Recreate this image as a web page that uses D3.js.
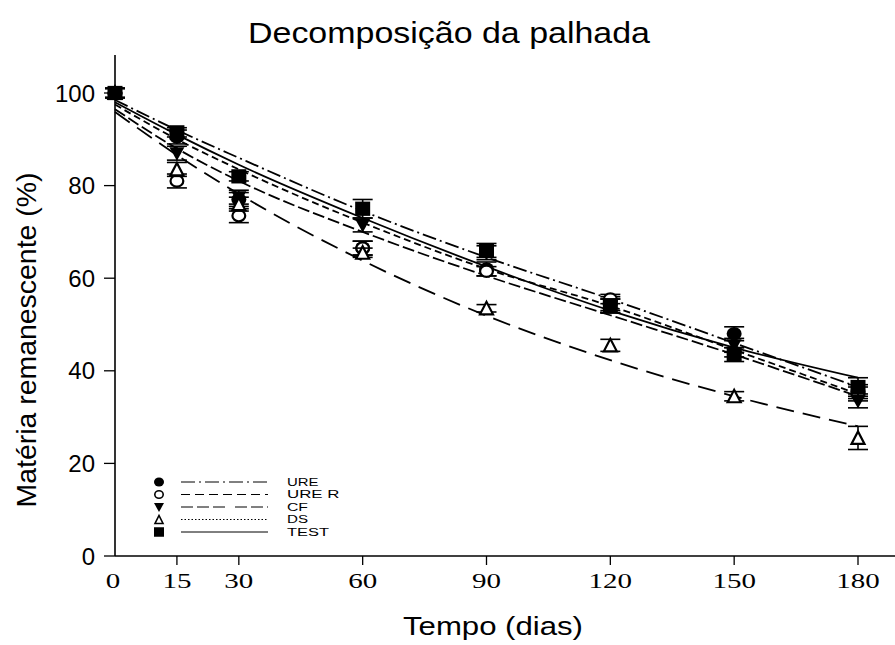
<!DOCTYPE html>
<html>
<head>
<meta charset="utf-8">
<script src="https://cdn.jsdelivr.net/npm/d3@7/dist/d3.min.js"></script>
<style>
  html, body { margin: 0; padding: 0; background: #fff; }
  svg { display: block; }
</style>
</head>
<body>
<div id="chart"></div>
<script>
// ---------- data ----------
const days = [0, 15, 30, 60, 90, 120, 150, 180];
const xTicks = [0, 15, 30, 60, 90, 120, 150, 180];
const yTicks = [0, 20, 40, 60, 80, 100];
const seriesNames = ["URE", "URE R", "CF", "DS", "TEST"];

// observed means (%)
const ureVals   = [100, 90.5, 77.0, 66.5, 62.0, 54.5, 48.0, 35.5];
const ureRVals  = [100, 81.0, 73.5, 66.5, 61.5, 55.5, 44.0, 35.0];
const cfVals    = [100, 87.0, 77.5, 71.5, 65.5, 54.0, 45.5, 33.5];
const dsVals    = [100, 83.5, 76.0, 65.5, 53.5, 45.5, 34.5, 25.5];
const testVals  = [100, 91.5, 82.0, 75.0, 66.0, 54.0, 43.5, 36.5];

// error bars (±)
const ureErr   = [1, 1.5, 1.5, 1.5, 1.5, 1.5, 1.5, 1.5];
const ureRErr  = [1, 1.5, 1.5, 1.5, 1.0, 1.0, 1.0, 1.5];
const cfErr    = [1, 1.5, 1.5, 1.5, 1.5, 1.5, 1.5, 1.5];
const dsErr    = [1, 1.5, 1.5, 1.0, 0.8, 1.3, 1.0, 2.5];
const testErr  = [1, 1.0, 1.0, 2.0, 1.5, 1.5, 1.5, 2.0];

// fitted curves read at the same days
const ureFit   = [98.5, 92.0, 86.0, 74.5, 64.5, 55.5, 46.0, 36.5];
const ureRFit  = [97.5, 90.0, 83.5, 72.0, 62.0, 54.0, 44.5, 35.0];
const cfFit    = [96.5, 88.0, 81.0, 70.0, 60.5, 52.0, 43.5, 34.5];
const dsFit    = [95.9, 86.6, 78.2, 63.8, 51.9, 42.3, 34.5, 28.0];
const testFit  = [98.0, 91.0, 84.5, 73.0, 62.5, 53.0, 45.0, 38.5];

// ---------- layout ----------
const W = 895, H = 645;
const svg = d3.select("#chart").append("svg").attr("width", W).attr("height", H);

const x = d3.scaleLinear().domain([0, 180]).range([115, 858]);
const y = d3.scaleLinear().domain([0, 100]).range([556, 93]);

const series = [
  { name: "URE",   vals: ureVals,  err: ureErr,  fit: ureFit,  marker: "circleF",  dash: "14,4,2,4",  legDash: "14,4,2,4" },
  { name: "URE R", vals: ureRVals, err: ureRErr, fit: ureRFit, marker: "circleO",  dash: "7,4",       legDash: "9,5" },
  { name: "CF",    vals: cfVals,   err: cfErr,   fit: cfFit,   marker: "triDown",  dash: "12,4",      legDash: "12,4,12,4,12,10" },
  { name: "DS",    vals: dsVals,   err: dsErr,   fit: dsFit,   marker: "triUp",    dash: "18,9",      legDash: "1.5,2" },
  { name: "TEST",  vals: testVals, err: testErr, fit: testFit, marker: "square",   dash: null,        legDash: null }
];

// ---------- axes ----------
const axisFont = "Liberation Sans, Arial, sans-serif";
const serifFont = "Liberation Serif, Times New Roman, serif";

// y axis
svg.append("line").attr("x1", 115).attr("x2", 115).attr("y1", y(0)).attr("y2", 55)
  .attr("stroke", "#000").attr("stroke-width", 1.6);
yTicks.forEach(t => {
  svg.append("line").attr("x1", 104).attr("x2", 115).attr("y1", y(t)).attr("y2", y(t))
    .attr("stroke", "#000").attr("stroke-width", 1.3);
  svg.append("text").attr("x", 95).attr("y", y(t)).attr("dy", "0.36em")
    .attr("text-anchor", "end").attr("font-family", axisFont).attr("font-size", 24)
    .text(t);
});

// x axis
svg.append("line").attr("x1", 115).attr("x2", 895).attr("y1", y(0)).attr("y2", y(0))
  .attr("stroke", "#000").attr("stroke-width", 1.6);
xTicks.forEach(t => {
  if (t > 0) {
    svg.append("line").attr("x1", x(t)).attr("x2", x(t)).attr("y1", y(0)).attr("y2", y(0) + 9)
      .attr("stroke", "#000").attr("stroke-width", 1.3);
  }
  const s = String(t);
  svg.append("text").attr("x", x(t) - (t === 0 ? 2 : 0)).attr("y", 588)
    .attr("text-anchor", "middle").attr("font-family", serifFont).attr("font-size", 22)
    .attr("textLength", s.length * 14.5).attr("lengthAdjust", "spacingAndGlyphs")
    .text(s);
});

// titles
svg.append("text").attr("x", 449).attr("y", 43).attr("text-anchor", "middle")
  .attr("font-family", axisFont).attr("font-size", 30)
  .attr("textLength", 402).attr("lengthAdjust", "spacingAndGlyphs")
  .text("Decomposição da palhada");
svg.append("text").attr("x", 493).attr("y", 635).attr("text-anchor", "middle")
  .attr("font-family", axisFont).attr("font-size", 26)
  .attr("textLength", 180).attr("lengthAdjust", "spacingAndGlyphs")
  .text("Tempo (dias)");
svg.append("text").attr("transform", "translate(36,340) rotate(-90)").attr("text-anchor", "middle")
  .attr("font-family", axisFont).attr("font-size", 28)
  .attr("textLength", 335).attr("lengthAdjust", "spacingAndGlyphs")
  .text("Matéria remanescente (%)");

// ---------- fitted curves ----------
const line = d3.line().x((d, i) => x(days[i])).y(d => y(d)).curve(d3.curveMonotoneX);
series.forEach(s => {
  svg.append("path").attr("d", line(s.fit)).attr("fill", "none")
    .attr("stroke", "#000").attr("stroke-width", 1.8)
    .attr("stroke-dasharray", s.dash);
});

// ---------- markers ----------
function drawMarker(g, type, cx, cy, size, sw) {
  const r = size / 2;
  if (type === "circleF") {
    g.append("ellipse").attr("cx", cx).attr("cy", cy).attr("rx", r).attr("ry", r * 0.9).attr("fill", "#000");
  } else if (type === "circleO") {
    g.append("ellipse").attr("cx", cx).attr("cy", cy).attr("rx", r - sw / 2).attr("ry", r * 0.9 - sw / 2)
      .attr("fill", "#fff").attr("stroke", "#000").attr("stroke-width", sw);
  } else if (type === "triDown") {
    g.append("path").attr("d", `M${cx - r},${cy - r * 0.8}L${cx + r},${cy - r * 0.8}L${cx},${cy + r}Z`)
      .attr("fill", "#000");
  } else if (type === "triUp") {
    g.append("path").attr("d", `M${cx - r + 1},${cy + r * 0.8}L${cx + r - 1},${cy + r * 0.8}L${cx},${cy - r + 1}Z`)
      .attr("fill", "#fff").attr("stroke", "#000").attr("stroke-width", sw);
  } else if (type === "square") {
    g.append("rect").attr("x", cx - r).attr("y", cy - r * 0.95).attr("width", size).attr("height", size * 0.95)
      .attr("fill", "#000");
  }
}

const ptsG = svg.append("g");
series.forEach(s => {
  const g = ptsG.append("g");
  days.forEach((d, i) => {
    const cx = x(d), v = s.vals[i], e = s.err[i];
    g.append("line").attr("x1", cx).attr("x2", cx).attr("y1", y(v - e)).attr("y2", y(v + e))
      .attr("stroke", "#000").attr("stroke-width", 1.6);
    [v - e, v + e].forEach(vv => {
      g.append("line").attr("x1", cx - 10).attr("x2", cx + 10).attr("y1", y(vv)).attr("y2", y(vv))
        .attr("stroke", "#000").attr("stroke-width", 1.6);
    });
    drawMarker(g, s.marker, cx, y(v), 15, 2.2);
  });
});

// ---------- legend ----------
const legY = [482, 494.5, 507, 519.5, 532];
series.forEach((s, i) => {
  const ly = legY[i];
  drawMarker(svg, s.marker, 159, ly, 10, 1.6);
  svg.append("line").attr("x1", 181).attr("x2", 268).attr("y1", ly).attr("y2", ly)
    .attr("stroke", "#000").attr("stroke-width", 1).attr("stroke-dasharray", s.legDash);
  svg.append("text").attr("x", 287).attr("y", ly).attr("dy", "0.36em")
    .attr("font-family", axisFont).attr("font-size", 10)
    .attr("textLength", s.name.length * 10.5).attr("lengthAdjust", "spacingAndGlyphs")
    .text(s.name);
});
</script>
</body>
</html>
